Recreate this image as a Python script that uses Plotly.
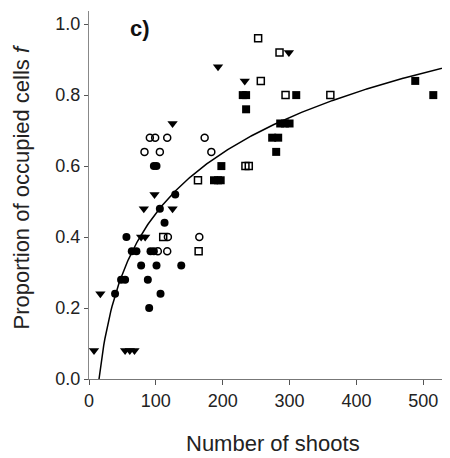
import numpy as np
import plotly.graph_objects as go

# Data
tri_x = [7.5, 17, 54, 61, 68, 78, 84, 82, 98, 125, 125, 193, 233, 299]
tri_y = [0.08, 0.24, 0.08, 0.08, 0.08, 0.40, 0.40, 0.48, 0.52, 0.48, 0.72, 0.88, 0.84, 0.92]

fcirc_x = [39, 48, 54, 56, 64, 71, 92, 97, 78, 101, 138, 88, 90, 107, 97, 101, 106, 113, 129]
fcirc_y = [0.24, 0.28, 0.28, 0.40, 0.36, 0.36, 0.36, 0.36, 0.32, 0.32, 0.32, 0.28, 0.20, 0.24, 0.60, 0.60, 0.48, 0.44, 0.52]

ocirc_x = [83, 91, 99, 106, 117, 173, 183, 165, 118, 103, 117]
ocirc_y = [0.64, 0.68, 0.68, 0.64, 0.68, 0.68, 0.64, 0.40, 0.40, 0.36, 0.36]

osq_x = [111, 164, 163, 234, 239, 253, 257, 285, 294, 361]
osq_y = [0.40, 0.36, 0.56, 0.60, 0.60, 0.96, 0.84, 0.92, 0.80, 0.80]

fsq_x = [187, 193, 197, 198, 230, 235, 235, 310, 274, 283, 280, 286, 293, 300, 488, 515]
fsq_y = [0.56, 0.56, 0.56, 0.60, 0.80, 0.80, 0.76, 0.80, 0.68, 0.68, 0.64, 0.72, 0.72, 0.72, 0.84, 0.80]

# Logarithmic fit f = a + b*ln(x)
fit_a = -0.666
fit_b = 0.246
x_tick_vals = [0, 100, 200, 300, 400, 500]
y_tick_vals = [0.0, 0.2, 0.4, 0.6, 0.8, 1.0]

fx = np.linspace(np.exp(-fit_a / fit_b), 540, 300)
fy = fit_a + fit_b * np.log(fx)

FONT = "Liberation Sans, Arial, sans-serif"
fig = go.Figure()
fig.add_trace(go.Scatter(x=fx, y=fy, mode="lines", line=dict(color="black", width=1.5), hoverinfo="skip"))

def add(xs, ys, symbol, size, filled):
    if filled:
        m = dict(symbol=symbol, size=size, color="black", line=dict(width=0))
    else:
        m = dict(symbol=symbol, size=size, color="black", line=dict(color="black", width=1.5))
    fig.add_trace(go.Scatter(x=xs, y=ys, mode="markers", marker=m))

add(osq_x, osq_y, "square-open", 7, False)
add(ocirc_x, ocirc_y, "circle-open", 7, False)
add(fsq_x, fsq_y, "square", 8, True)
add(fcirc_x, fcirc_y, "circle", 8, True)
add(tri_x, tri_y, "triangle-down", 9, True)

# The page body adds an 8px offset, so the figure is 8px smaller each way.
fig.update_layout(
    width=442, height=450,
    margin=dict(l=81, r=0, t=3, b=79, autoexpand=False),
    paper_bgcolor="white", plot_bgcolor="white",
    showlegend=False,
    font=dict(family=FONT, color="#222", size=18),
    xaxis=dict(range=[0, 540], tickvals=x_tick_vals, ticktext=[str(v) for v in x_tick_vals],
               ticks="outside", ticklen=5, tickcolor="#555", showline=True, linecolor="#777",
               linewidth=1.2, showgrid=False, zeroline=False, tickfont=dict(size=18)),
    yaxis=dict(range=[0, 1.037], tickvals=y_tick_vals, ticktext=[f"{v:.1f}" for v in y_tick_vals],
               ticks="outside", ticklen=4, tickcolor="#555", showline=True, linecolor="#888",
               linewidth=1.2, showgrid=False, zeroline=False, tickfont=dict(size=18)),
    annotations=[
        dict(text="Number of shoots", xref="paper", yref="paper", x=0.509, y=-0.176,
             showarrow=False, xanchor="center", yanchor="middle", font=dict(size=22, color="#222")),
        dict(text="Proportion of occupied cells <i>f</i>", xref="paper", yref="paper", x=-0.188, y=0.521,
             textangle=-90, showarrow=False, xanchor="center", yanchor="middle", font=dict(size=22, color="#222")),
        dict(text="<b>c)</b>", xref="x", yref="y", x=76.6, y=0.989, showarrow=False,
             xanchor="center", yanchor="middle", font=dict(size=22, color="#111")),
    ],
)
fig.write_html("out.html")
